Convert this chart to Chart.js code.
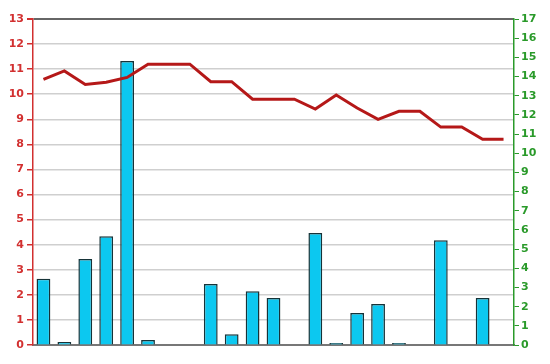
<!DOCTYPE html>
<html>
<head>
<meta charset="utf-8">
<script src="https://cdn.jsdelivr.net/npm/chart.js@4"></script>
<style>
	html, body { margin: 0; padding: 0; background: #fff; }
	#wrap { width: 550px; height: 364px; }
</style>
</head>
<body>
<div id="wrap"><canvas id="combo-chart" width="550" height="364"></canvas></div>
<script>
const categories = ['1', '2', '3', '4', '5', '6', '7', '8', '9', '10', '11', '12',
	'13', '14', '15', '16', '17', '18', '19', '20', '21', '22', '23'];

// bar series, read against the right (green) axis
const barValues = [3.46, 0.16, 4.48, 5.67, 14.81, 0.26, 0, 0, 3.18, 0.56, 2.8, 2.45,
	0, 5.84, 0.1, 1.67, 2.14, 0.1, 0, 5.46, 0, 2.45, 0];

// line series, read against the left (red) axis
const lineValues = [10.59, 10.93, 10.39, 10.48, 10.67, 11.2, 11.2, 11.2, 10.5, 10.5, 9.8, 9.8,
	9.8, 9.41, 9.97, 9.45, 9.0, 9.32, 9.32, 8.69, 8.69, 8.2, 8.2];

const leftMax = 13;
const rightMax = 17;

window.onload = () => {
	createComboChart();
};

function createComboChart() {
	const ctx = document.getElementById('combo-chart').getContext('2d');
	new Chart(ctx, {
		data: {
			labels: categories,
			datasets: [{
				type: 'line',
				label: 'line',
				data: lineValues,
				yAxisID: 'yLeft',
				borderColor: '#b51818',
				borderWidth: 3,
				pointRadius: 0,
				tension: 0,
				order: 0
			}, {
				type: 'bar',
				label: 'bar',
				data: barValues,
				yAxisID: 'yRight',
				backgroundColor: '#0cc8f0',
				borderColor: '#163338',
				borderWidth: 1.5,
				barPercentage: 0.66,
				categoryPercentage: 1,
				order: 1
			}]
		},
		options: {
			responsive: false,
			animation: false,
			layout: { padding: { top: 19, bottom: 19 } },
			plugins: {
				legend: { display: false },
				tooltip: { enabled: false }
			},
			scales: {
				x: {
					ticks: { display: false },
					grid: { display: false, drawTicks: false },
					border: { color: '#777', width: 2 }
				},
				yLeft: {
					position: 'left',
					min: 0,
					max: leftMax,
					ticks: {
						stepSize: 1,
						color: '#d23030',
						padding: 3,
						font: { family: 'DejaVu Sans', size: 11, weight: 'bold' }
					},
					grid: {
						color: (c) => c.tick && c.tick.value === leftMax ? '#666' : '#cfcfcf',
						lineWidth: (c) => c.tick && c.tick.value === leftMax ? 2 : 1.5,
						tickColor: '#d23030',
						tickLength: 6
					},
					border: { color: '#d23030', width: 1.5 },
					afterFit: (scale) => { scale.width = 33; }
				},
				yRight: {
					position: 'right',
					min: 0,
					max: rightMax,
					ticks: {
						stepSize: 1,
						color: '#2a9a2a',
						padding: 2,
						font: { family: 'DejaVu Sans', size: 11, weight: 'bold' }
					},
					grid: {
						drawOnChartArea: false,
						tickColor: '#2a9a2a',
						tickLength: 5
					},
					border: { color: '#2a9a2a', width: 1.5 },
					afterFit: (scale) => { scale.width = 36; }
				}
			}
		}
	});
}
</script>
</body>
</html>
